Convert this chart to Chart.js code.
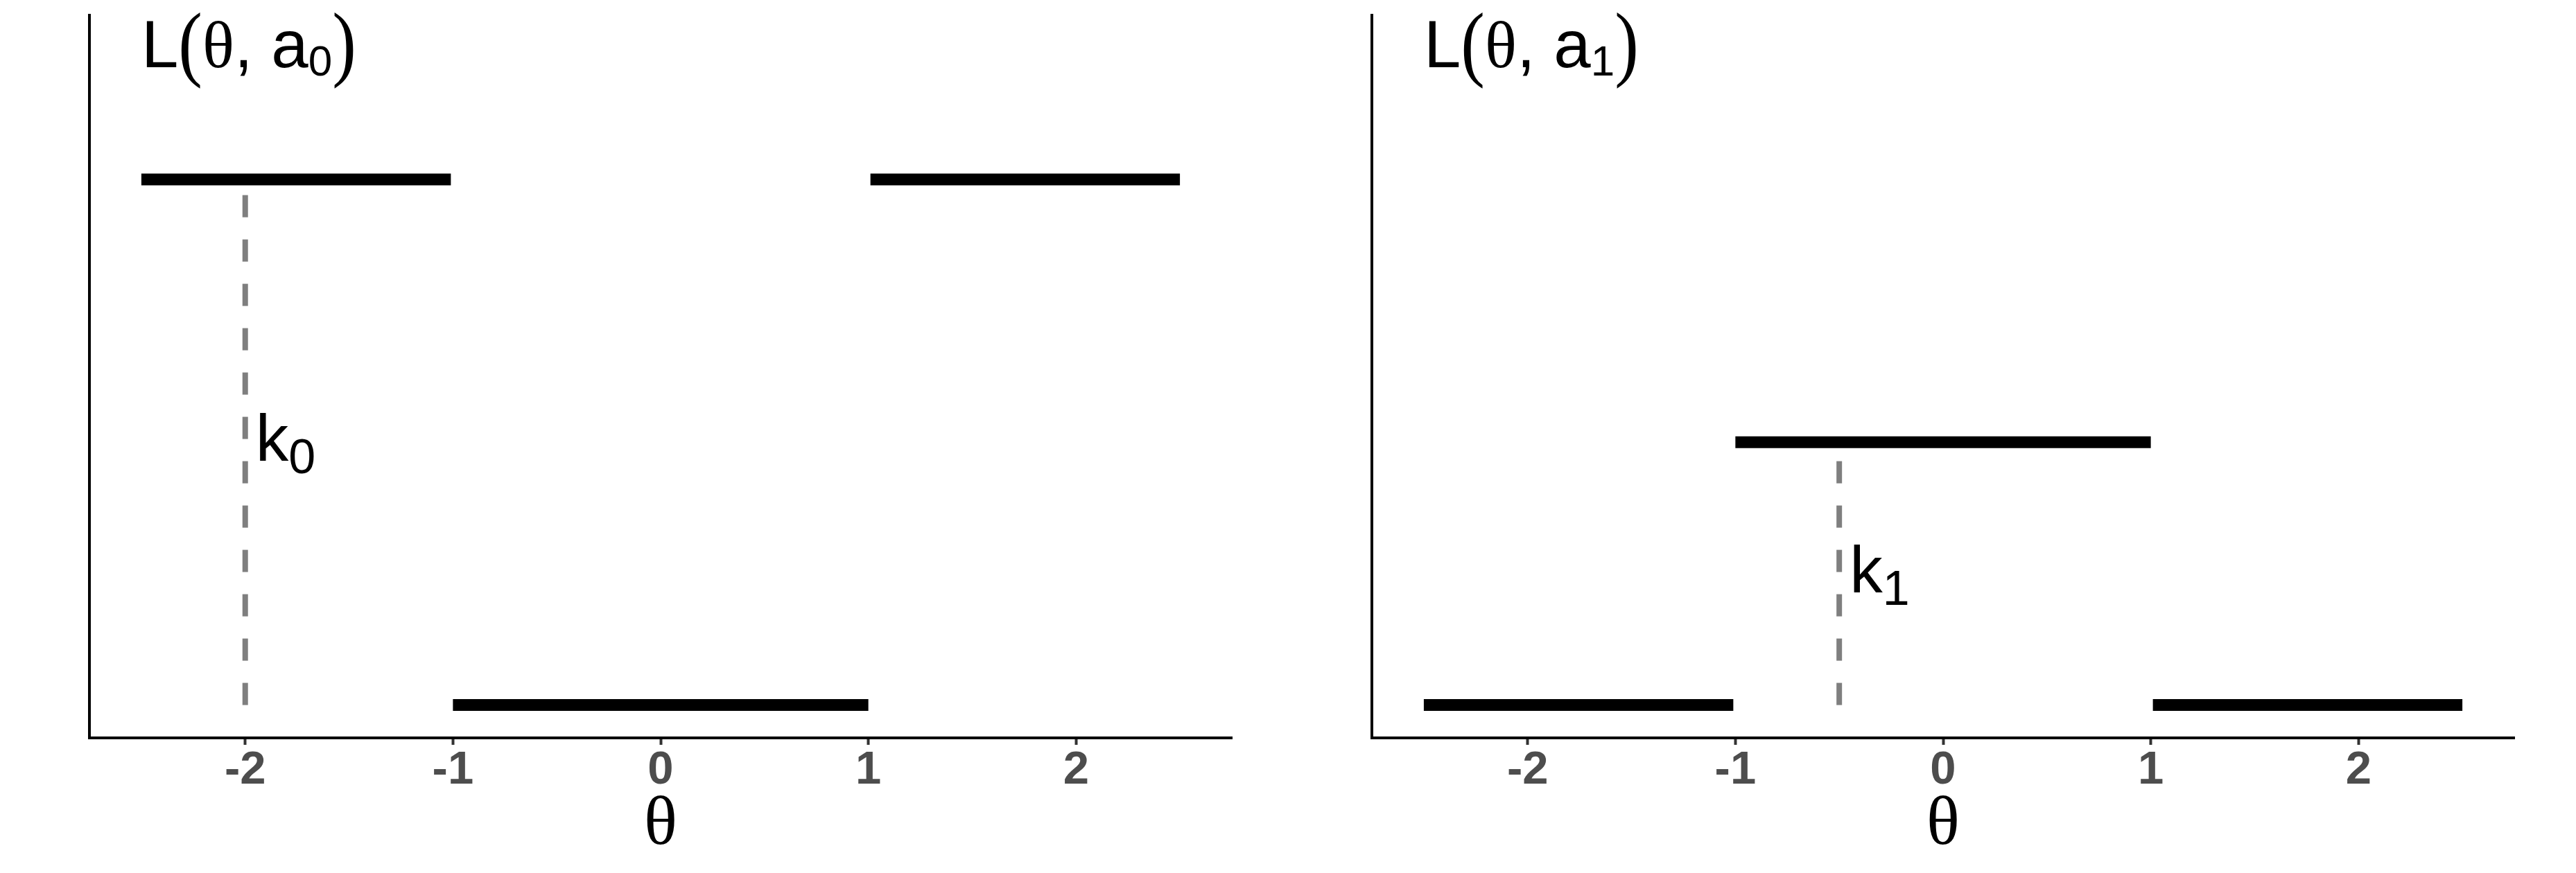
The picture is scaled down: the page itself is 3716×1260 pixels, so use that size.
<!DOCTYPE html>
<html>
<head>
<meta charset="utf-8">
<script src="https://cdn.jsdelivr.net/npm/chart.js@4/dist/chart.umd.min.js"></script>
<style>
  html, body { margin: 0; padding: 0; background: #fff; }
  #wrap { position: relative; width: 3716px; height: 1260px; }
  .panel { position: absolute; top: 0; width: 1858px; height: 1260px; }
</style>
</head>
<body>
<div id="wrap">
  <div class="panel" style="left:0"><canvas id="lossA0" width="1858" height="1260"></canvas></div>
  <div class="panel" style="left:1858px"><canvas id="lossA1" width="1858" height="1260"></canvas></div>
</div>
<script>
// theta axis
const xTicks = [-2, -1, 0, 1, 2]
const thetaMin = -2.75
const thetaMax = 2.75
const lossMin = -0.125
const lossMax = 2.625

// loss for action a0: pieces of the step function
const segStartA0 = [-2.5, -1, 1.01]
const segEndA0 = [-1.01, 1, 2.5]
const segLossA0 = [2, 0, 2]

// loss for action a1
const segStartA1 = [-2.5, -1, 1.01]
const segEndA1 = [-1.01, 1, 2.5]
const segLossA1 = [0, 1, 0]

// dashed k markers (theta, height) and their labels
const kTheta = [-2, -0.5]
const kHeight = [2, 1]
const kLabelX = [-1.95, -0.45]
const kLabelY = [1, 0.5]
const kSub = ['0', '1']

// panel title position
const titleX = -2.5
const titleY = 2.5
const titleSub = ['0', '1']

const SANS = '"Liberation Sans", Arial, sans-serif'
const SERIF = '"Liberation Serif", "Times New Roman", serif'

function drawMath(ctx, x, y, parts) {
  let cx = x
  parts.forEach(p => {
    ctx.font = p.font
    ctx.save()
    ctx.translate(cx, y + p.dy)
    ctx.scale(1, p.sy || 1)   // stretched parentheses like plotmath bgroup
    ctx.fillText(p.text, 0, 0)
    ctx.restore()
    cx += ctx.measureText(p.text).width
  })
}

// draws L(θ, a_i) and k_i as text at data positions
const mathLabels = {
  id: 'mathLabels',
  afterDatasetsDraw(chart, args, opts) {
    const {ctx, scales: {x, y}} = chart
    const i = opts.idx
    ctx.save()
    ctx.fillStyle = '#000'
    ctx.textAlign = 'left'
    ctx.textBaseline = 'alphabetic'

    drawMath(ctx, x.getPixelForValue(titleX), y.getPixelForValue(titleY), [
      {text: 'L', font: '96px ' + SANS, dy: 28},
      {text: '(', font: '104px ' + SERIF, dy: 33, sy: 1.17},
      {text: 'θ', font: '96px ' + SERIF, dy: 28},
      {text: ', ', font: '96px ' + SANS, dy: 28},
      {text: 'a', font: '96px ' + SANS, dy: 28},
      {text: titleSub[i], font: '62px ' + SANS, dy: 40},
      {text: ')', font: '104px ' + SERIF, dy: 33, sy: 1.17}
    ])

    drawMath(ctx, x.getPixelForValue(kLabelX[i]), y.getPixelForValue(kLabelY[i]), [
      {text: 'k', font: '95px ' + SANS, dy: 27},
      {text: kSub[i], font: '70px ' + SANS, dy: 45}
    ])
    ctx.restore()
  }
}

function makePanel(id, idx, segStart, segEnd, segLoss, padL, padR) {
  const datasets = []
  // dashed guide from 0 up to the loss level
  datasets.push({
    data: [{x: kTheta[idx], y: 0}, {x: kTheta[idx], y: kHeight[idx]}],
    borderColor: '#7f7f7f',
    borderWidth: 8,
    borderDash: [32, 32],
    pointRadius: 0
  })
  for (let i = 0; i < segStart.length; i++) {
    datasets.push({
      data: [{x: segStart[i], y: segLoss[i]}, {x: segEnd[i], y: segLoss[i]}],
      borderColor: '#000',
      borderWidth: 17,
      borderCapStyle: 'butt',
      pointRadius: 0
    })
  }

  return new Chart(document.getElementById(id), {
    type: 'line',
    data: {datasets: datasets},
    plugins: [mathLabels],
    options: {
      responsive: false,
      animation: false,
      devicePixelRatio: 1,
      events: [],
      layout: {padding: {top: 22, left: padL, right: padR, bottom: 0}},
      plugins: {
        legend: {display: false},
        tooltip: {enabled: false},
        mathLabels: {idx: idx}
      },
      scales: {
        x: {
          type: 'linear',
          min: thetaMin,
          max: thetaMax,
          afterBuildTicks: s => { s.ticks = xTicks.map(v => ({value: v})) },
          afterFit: s => { s.height = 195 },
          ticks: {
            autoSkip: false,
            maxRotation: 0,
            padding: 4,
            color: '#4d4d4d',
            font: {family: SANS, size: 67, weight: 'bold', lineHeight: 1}
          },
          grid: {
            drawOnChartArea: false,
            drawTicks: true,
            tickLength: 10,
            tickWidth: 4,
            tickColor: '#333333',
            color: '#333333'
          },
          border: {display: true, color: '#000', width: 4},
          title: {
            display: true,
            text: 'θ',
            color: '#000',
            font: {family: SERIF, size: 100, lineHeight: 1},
            padding: {top: 0, bottom: 18}
          }
        },
        y: {
          type: 'linear',
          min: lossMin,
          max: lossMax,
          afterFit: s => { s.width = 0 },
          ticks: {display: false},
          grid: {display: false},
          border: {display: true, color: '#000', width: 4}
        }
      }
    }
  })
}

makePanel('lossA0', 0, segStartA0, segEndA0, segLossA0, 129, 81)
makePanel('lossA1', 1, segStartA1, segEndA1, segLossA1, 121, 89)
</script>
</body>
</html>
